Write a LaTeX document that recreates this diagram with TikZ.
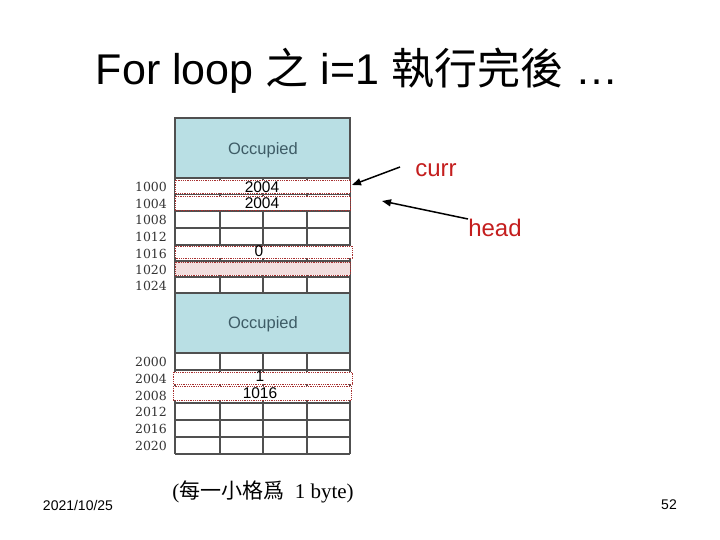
\documentclass[tikz,border=0pt]{standalone}
\usepackage{fontspec}
\setmainfont{Liberation Sans}
\newfontfamily\cjk{Noto Sans CJK TC}
\newfontfamily\serifrm{Liberation Serif}
\newfontfamily\addrfont{DejaVu Serif}
\usetikzlibrary{arrows.meta}
\definecolor{occfill}{HTML}{B9DFE4}
\definecolor{occtext}{HTML}{3E5C66}
\definecolor{gridc}{HTML}{505050}
\definecolor{hlc}{HTML}{A83030}
\definecolor{pinkf}{HTML}{F2DEDE}
\definecolor{lblred}{HTML}{C41E1E}
\definecolor{addrc}{HTML}{333333}
\begin{document}
\begin{tikzpicture}[x=1pt,y=-1pt,
  occbox/.style={draw=gridc,line width=1.2pt,fill=occfill},
  gline/.style={draw=gridc,line width=1.5pt},
  hlbox/.style={draw=hlc,line width=0.8pt,densely dotted,fill=white},
  addr/.style={font=\addrfont\fontsize{12.5}{12.5}\selectfont,text=addrc,inner sep=0pt},
  val/.style={font=\fontsize{15.5}{15.5}\selectfont,inner sep=0pt},
  ptr/.style={font=\fontsize{24}{24}\selectfont,text=lblred,inner sep=0pt},
  arr/.style={line width=1.5pt,-{Triangle[length=9pt,width=7pt]}}]
\useasboundingbox (0,0) rectangle (720,540);
% title
\node[anchor=base,inner sep=0pt,font=\fontsize{43}{50}\selectfont] (title) at (357,85)
  {For loop {\cjk 之} i=1 {\cjk 執行完後} …};
% occupied 1
\draw[occbox] (175,118) rectangle (350,178);
\node[font=\fontsize{16.5}{16.5}\selectfont,text=occtext] (occ1) at (263,150) {Occupied};
% block 1 grid
\foreach \y in {194.5,211,228,245,261,277,293}
  \draw[gline] (175,\y) -- (350,\y);
\foreach \x in {175,220,263,307,350}
  \draw[gline] (\x,178) -- (\x,293);
% occupied 2
\draw[occbox] (175,293) rectangle (350,353);
\node[font=\fontsize{16.5}{16.5}\selectfont,text=occtext] (occ2) at (263,324) {Occupied};
% block 2 grid
\foreach \y in {370,387,403,420,437,454}
  \draw[gline] (175,\y) -- (350,\y);
\foreach \x in {175,220,263,307,350}
  \draw[gline] (\x,353) -- (\x,454);
% highlighted rows
\draw[hlbox] (175,180) rectangle (350,193);
\coordinate (r1000e) at (352,185);
\draw[hlbox] (175,196) rectangle (350,210);
\draw[hlbox] (175,246) rectangle (352,258);
\draw[hlbox,fill=pinkf] (175,262) rectangle (350,275);
\draw[hlbox] (173,372) rectangle (352,384);
\draw[hlbox] (173,386) rectangle (351,400);
% values
\node[val] (v1) at (262,187) {2004};
\node[val] (v2) at (262,203) {2004};
\node[val] (v3) at (259,251) {0};
\node[val] (v4) at (260,376) {1};
\node[val] (v5) at (260,393) {1016};
% addresses
\node[addr] (a1000) at (151,187) {1000};
\node[addr] (a1004) at (151,203.5) {1004};
\node[addr] (a1008) at (151,220) {1008};
\node[addr] (a1012) at (151,237) {1012};
\node[addr] (a1016) at (151,254) {1016};
\node[addr] (a1020) at (151,270) {1020};
\node[addr] (a1024) at (151,286) {1024};
\node[addr] (a2000) at (151,362) {2000};
\node[addr] (a2004) at (151,379) {2004};
\node[addr] (a2008) at (151,396) {2008};
\node[addr] (a2012) at (151,412) {2012};
\node[addr] (a2016) at (151,429) {2016};
\node[addr] (a2020) at (151,446) {2020};
% pointers
\node[ptr] (curr) at (436,170) {curr};
\node[ptr] (head) at (495,228) {head};
\coordinate (cs) at (400,167);
\coordinate (hs) at (468,219);
\coordinate (he) at (382,201);
\draw[arr] (cs) -- (r1000e);
\draw[arr] (hs) -- (he);
% caption
\node[inner sep=0pt,font=\serifrm\fontsize{21}{21}\selectfont] (cap) at (263,492)
  {({\cjk 每一小格爲}\ \ 1 byte)};
% footer
\node[inner sep=0pt,font=\fontsize{14}{14}\selectfont] (date) at (78,505) {2021/10/25};
\node[inner sep=0pt,font=\fontsize{14}{14}\selectfont] (page) at (669,505) {52};
\end{tikzpicture}
\end{document}
